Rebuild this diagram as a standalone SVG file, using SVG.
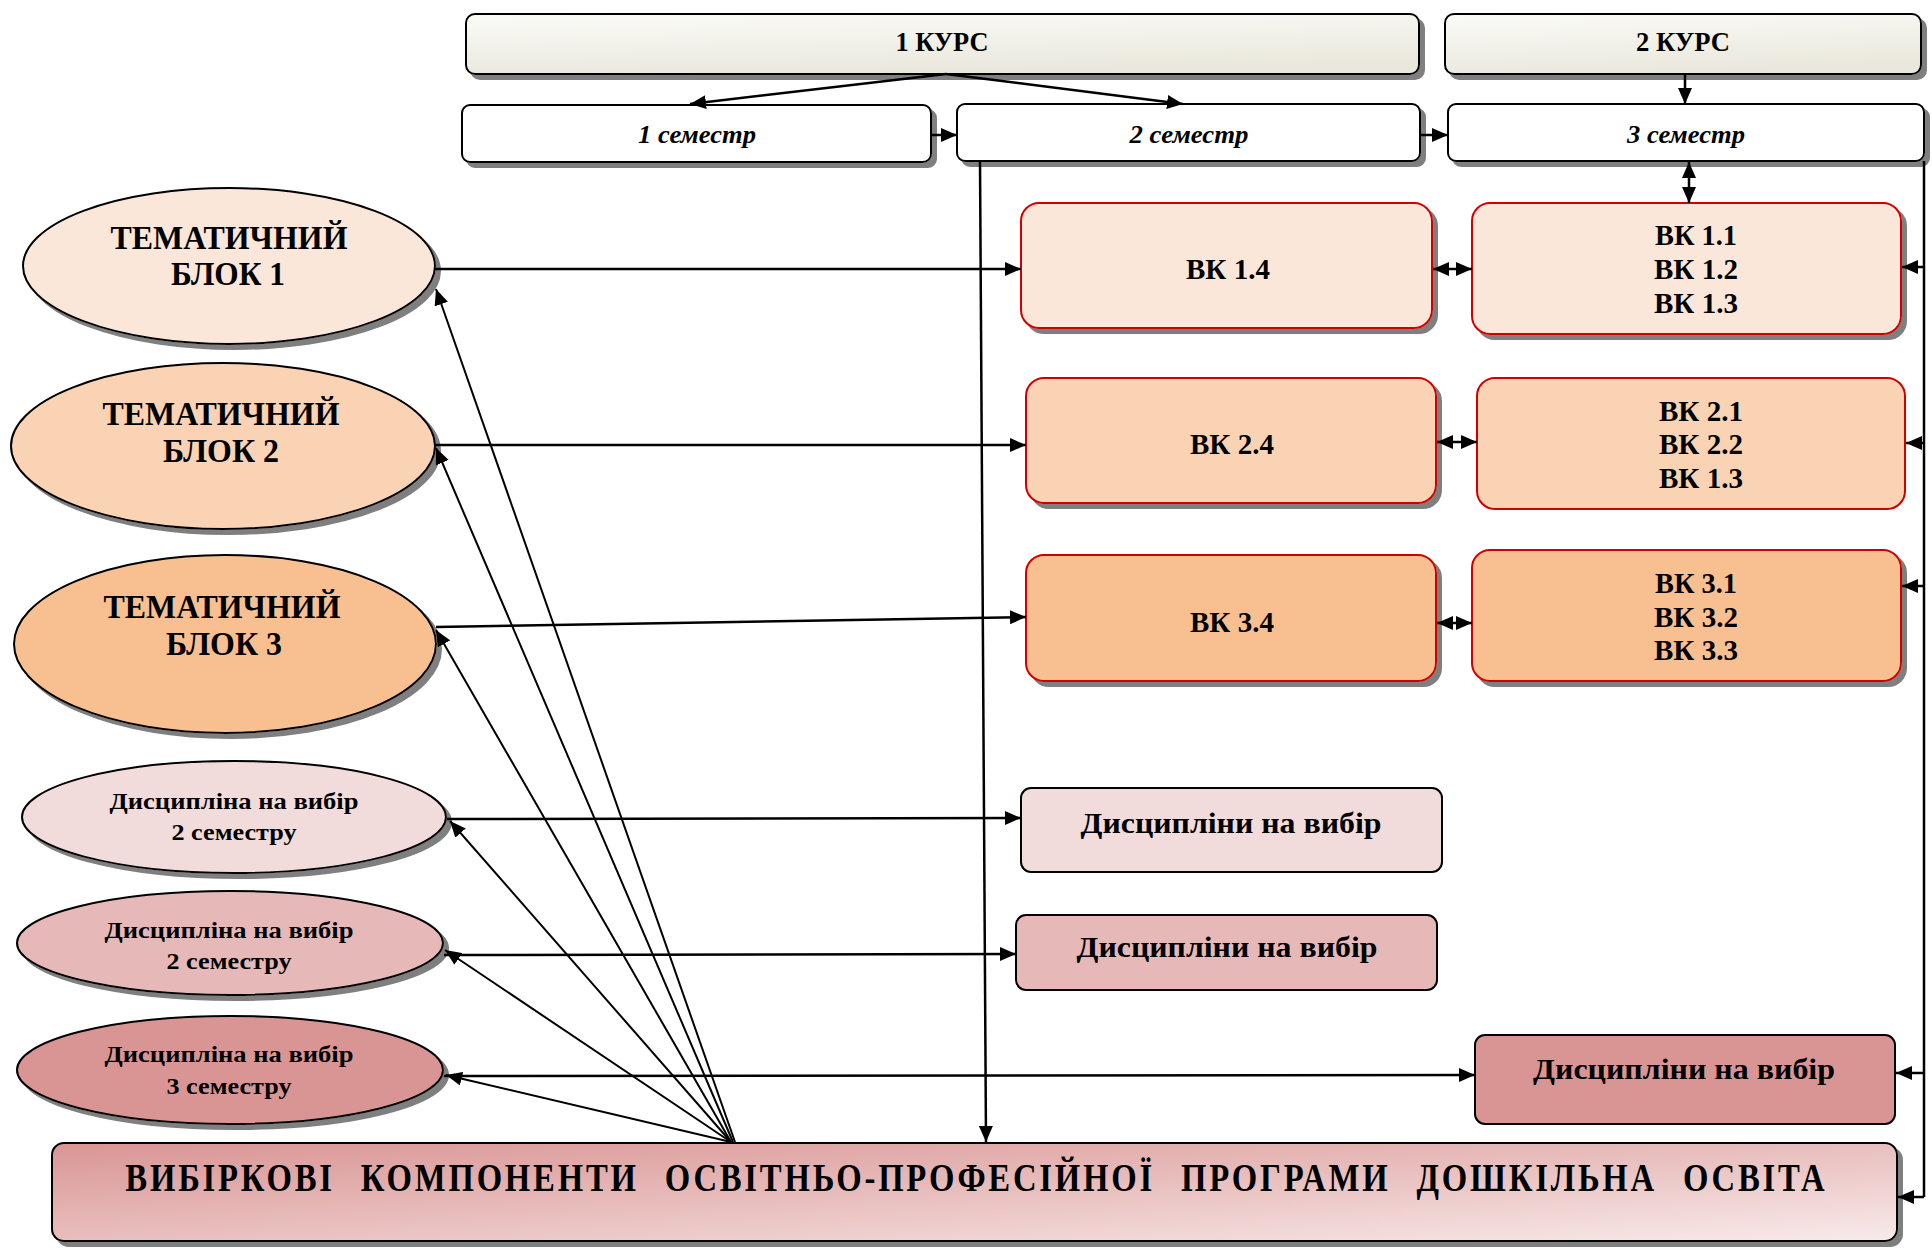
<svg xmlns="http://www.w3.org/2000/svg" width="1932" height="1248" viewBox="0 0 1932 1248">
<defs>
<style>
.t{font-family:"Liberation Serif","Times New Roman",serif;font-weight:bold;fill:#000;text-anchor:middle}
.it{font-style:italic}
.box{stroke:#000;stroke-width:2}
.vk{stroke:#D00000;stroke-width:2}
.ln{stroke:#000;stroke-width:2.5;fill:none}
.fan{stroke:#000;stroke-width:2;fill:none}
</style>
<filter id="sh" x="-5%" y="-5%" width="115%" height="130%">
<feFlood flood-color="#7f7f7f"/>
<feComposite in2="SourceAlpha" operator="in"/>
<feOffset dx="5" dy="5" result="s"/>
<feMerge><feMergeNode in="s"/><feMergeNode in="SourceGraphic"/></feMerge>
</filter>
<linearGradient id="gk" x1="0" y1="0" x2="0.3" y2="1">
<stop offset="0" stop-color="#FBFBF7"/><stop offset="1" stop-color="#EAE8DD"/>
</linearGradient>
<linearGradient id="gm" x1="0" y1="0" x2="1" y2="1">
<stop offset="0" stop-color="#D99594"/><stop offset="0.6" stop-color="#EBC7C6"/><stop offset="1" stop-color="#F8EAEA"/>
</linearGradient>
<marker id="ah" markerUnits="userSpaceOnUse" markerWidth="18" markerHeight="14" refX="16" refY="7" orient="auto">
<path d="M0,0 L16,7 L0,14 Z" fill="#000"/>
</marker>
<marker id="as" markerUnits="userSpaceOnUse" markerWidth="18" markerHeight="14" refX="16" refY="7" orient="auto-start-reverse">
<path d="M0,0 L16,7 L0,14 Z" fill="#000"/>
</marker>
</defs>
<rect width="1932" height="1248" fill="#fff"/>

<g id="kurs1"><rect x="466" y="14" width="953" height="60" rx="9" fill="url(#gk)" class="box" filter="url(#sh)"/><text x="942" y="51" class="t" font-size="27" textLength="93" lengthAdjust="spacingAndGlyphs">1 КУРС</text></g>
<g id="kurs2"><rect x="1445" y="14" width="476" height="60" rx="9" fill="url(#gk)" class="box" filter="url(#sh)"/><text x="1683" y="51" class="t" font-size="27" textLength="94" lengthAdjust="spacingAndGlyphs">2 КУРС</text></g>
<g id="sem1"><rect x="462" y="105" width="469" height="57" rx="8" fill="#fff" class="box" filter="url(#sh)"/><text x="697" y="143" class="t it" font-size="26" textLength="118" lengthAdjust="spacingAndGlyphs">1 семестр</text></g>
<g id="sem2"><rect x="957" y="104" width="463" height="57" rx="8" fill="#fff" class="box" filter="url(#sh)"/><text x="1189" y="143" class="t it" font-size="26" textLength="119" lengthAdjust="spacingAndGlyphs">2 семестр</text></g>
<g id="sem3"><rect x="1448" y="104" width="476" height="57" rx="8" fill="#fff" class="box" filter="url(#sh)"/><text x="1686" y="143" class="t it" font-size="26" textLength="118" lengthAdjust="spacingAndGlyphs">3 семестр</text></g>

<g id="vk14"><rect x="1021" y="203" width="411" height="125" rx="18" fill="#FBE7D9" class="vk" filter="url(#sh)"/><text x="1228" y="279" class="t" font-size="30" textLength="84" lengthAdjust="spacingAndGlyphs">ВК 1.4</text></g>
<g id="vk11"><rect x="1472" y="203" width="429" height="131" rx="18" fill="#FBE7D9" class="vk" filter="url(#sh)"/>
<text x="1696" y="245" class="t" font-size="30" textLength="82" lengthAdjust="spacingAndGlyphs">ВК 1.1</text>
<text x="1696" y="279" class="t" font-size="30" textLength="84" lengthAdjust="spacingAndGlyphs">ВК 1.2</text>
<text x="1696" y="313" class="t" font-size="30" textLength="84" lengthAdjust="spacingAndGlyphs">ВК 1.3</text></g>
<g id="vk24"><rect x="1026" y="378" width="410" height="125" rx="18" fill="#F9D3B4" class="vk" filter="url(#sh)"/><text x="1232" y="454" class="t" font-size="30" textLength="84" lengthAdjust="spacingAndGlyphs">ВК 2.4</text></g>
<g id="vk21"><rect x="1477" y="378" width="428" height="131" rx="18" fill="#F9D3B4" class="vk"/>
<text x="1701" y="421" class="t" font-size="30" textLength="84" lengthAdjust="spacingAndGlyphs">ВК 2.1</text>
<text x="1701" y="454" class="t" font-size="30" textLength="84" lengthAdjust="spacingAndGlyphs">ВК 2.2</text>
<text x="1701" y="488" class="t" font-size="30" textLength="84" lengthAdjust="spacingAndGlyphs">ВК 1.3</text></g>
<g id="vk34"><rect x="1026" y="555" width="410" height="126" rx="18" fill="#F8BF91" class="vk" filter="url(#sh)"/><text x="1232" y="632" class="t" font-size="30" textLength="84" lengthAdjust="spacingAndGlyphs">ВК 3.4</text></g>
<g id="vk31"><rect x="1472" y="550" width="429" height="131" rx="18" fill="#F8BF91" class="vk" filter="url(#sh)"/>
<text x="1696" y="593" class="t" font-size="30" textLength="82" lengthAdjust="spacingAndGlyphs">ВК 3.1</text>
<text x="1696" y="627" class="t" font-size="30" textLength="84" lengthAdjust="spacingAndGlyphs">ВК 3.2</text>
<text x="1696" y="660" class="t" font-size="30" textLength="84" lengthAdjust="spacingAndGlyphs">ВК 3.3</text></g>

<g id="dis1box"><rect x="1021" y="788" width="421" height="84" rx="10" fill="#F2DCDB" class="box"/><text x="1231" y="833" class="t" font-size="30" textLength="301" lengthAdjust="spacingAndGlyphs">Дисципліни на вибір</text></g>
<g id="dis2box"><rect x="1016" y="915" width="421" height="75" rx="10" fill="#E6B9B8" class="box"/><text x="1227" y="957" class="t" font-size="30" textLength="301" lengthAdjust="spacingAndGlyphs">Дисципліни на вибір</text></g>
<g id="dis3box"><rect x="1475" y="1035" width="420" height="89" rx="10" fill="#D99594" class="box"/><text x="1684" y="1079" class="t" font-size="30" textLength="302" lengthAdjust="spacingAndGlyphs">Дисципліни на вибір</text></g>

<g id="blok1"><ellipse cx="229" cy="266" rx="206" ry="78" fill="#FBE7D9" class="box" filter="url(#sh)"/>
<text x="229" y="249" class="t" font-size="34" textLength="237" lengthAdjust="spacingAndGlyphs">ТЕМАТИЧНИЙ</text>
<text x="228" y="285" class="t" font-size="34" textLength="114" lengthAdjust="spacingAndGlyphs">БЛОК 1</text></g>
<g id="blok2"><ellipse cx="223" cy="446" rx="212" ry="83" fill="#F9D3B4" class="box" filter="url(#sh)"/>
<text x="221" y="425" class="t" font-size="34" textLength="237" lengthAdjust="spacingAndGlyphs">ТЕМАТИЧНИЙ</text>
<text x="221" y="462" class="t" font-size="34" textLength="116" lengthAdjust="spacingAndGlyphs">БЛОК 2</text></g>
<g id="blok3"><ellipse cx="225" cy="644" rx="211" ry="89" fill="#F8BF91" class="box" filter="url(#sh)"/>
<text x="222" y="618" class="t" font-size="34" textLength="237" lengthAdjust="spacingAndGlyphs">ТЕМАТИЧНИЙ</text>
<text x="224" y="655" class="t" font-size="34" textLength="116" lengthAdjust="spacingAndGlyphs">БЛОК 3</text></g>
<g id="dis1"><ellipse cx="234" cy="817" rx="212" ry="56" fill="#F2DCDB" class="box" filter="url(#sh)"/>
<text x="234" y="809" class="t" font-size="24" textLength="249" lengthAdjust="spacingAndGlyphs">Дисципліна на вибір</text>
<text x="234" y="840" class="t" font-size="24" textLength="125" lengthAdjust="spacingAndGlyphs">2 семестру</text></g>
<g id="dis2"><ellipse cx="230" cy="943" rx="213" ry="52" fill="#E6B9B8" class="box" filter="url(#sh)"/>
<text x="229" y="938" class="t" font-size="24" textLength="249" lengthAdjust="spacingAndGlyphs">Дисципліна на вибір</text>
<text x="229" y="969" class="t" font-size="24" textLength="125" lengthAdjust="spacingAndGlyphs">2 семестру</text></g>
<g id="dis3"><ellipse cx="230" cy="1070" rx="213" ry="54" fill="#D99594" class="box" filter="url(#sh)"/>
<text x="229" y="1062" class="t" font-size="24" textLength="249" lengthAdjust="spacingAndGlyphs">Дисципліна на вибір</text>
<text x="229" y="1094" class="t" font-size="24" textLength="125" lengthAdjust="spacingAndGlyphs">3 семестру</text></g>

<g id="main"><rect x="52" y="1143" width="1845" height="98" rx="12" fill="url(#gm)" class="box" filter="url(#sh)"/><text transform="translate(975,1191) scale(0.84,1)" x="0" y="0" class="t" font-size="39" word-spacing="18" textLength="2023" lengthAdjust="spacing">ВИБІРКОВІ  КОМПОНЕНТИ  ОСВІТНЬО-ПРОФЕСІЙНОЇ  ПРОГРАМИ  ДОШКІЛЬНА  ОСВІТА</text></g>

<g id="connectors">
<line x1="946" y1="74" x2="690" y2="104" class="ln" marker-end="url(#ah)"/>
<line x1="946" y1="74" x2="1183" y2="104" class="ln" marker-end="url(#ah)"/>
<line x1="1685" y1="74" x2="1685" y2="104" class="ln" marker-end="url(#ah)"/>
<line x1="931" y1="135" x2="957" y2="135" class="ln" marker-end="url(#ah)"/>
<line x1="1420" y1="135" x2="1448" y2="135" class="ln" marker-end="url(#ah)"/>
<line x1="1689" y1="162" x2="1689" y2="203" class="ln" marker-start="url(#as)" marker-end="url(#ah)"/>
<line x1="980" y1="161" x2="986" y2="1142" class="ln" marker-end="url(#ah)"/>
<line x1="1924" y1="161" x2="1924" y2="1197" class="ln"/>
<line x1="1924" y1="267" x2="1902" y2="267" class="ln" marker-end="url(#ah)"/>
<line x1="1924" y1="443" x2="1906" y2="443" class="ln" marker-end="url(#ah)"/>
<line x1="1924" y1="586" x2="1902" y2="586" class="ln" marker-end="url(#ah)"/>
<line x1="1924" y1="1073" x2="1896" y2="1073" class="ln" marker-end="url(#ah)"/>
<line x1="1924" y1="1197" x2="1898" y2="1197" class="ln" marker-end="url(#ah)"/>
<line x1="434" y1="269" x2="1021" y2="269" class="ln" marker-end="url(#ah)"/>
<line x1="435" y1="445" x2="1026" y2="445" class="ln" marker-end="url(#ah)"/>
<line x1="436" y1="627" x2="1026" y2="617" class="ln" marker-end="url(#ah)"/>
<line x1="1433" y1="269" x2="1472" y2="269" class="ln" marker-start="url(#as)" marker-end="url(#ah)"/>
<line x1="1437" y1="442" x2="1477" y2="442" class="ln" marker-start="url(#as)" marker-end="url(#ah)"/>
<line x1="1437" y1="623" x2="1472" y2="623" class="ln" marker-start="url(#as)" marker-end="url(#ah)"/>
<line x1="447" y1="819" x2="1021" y2="818" class="ln" marker-end="url(#ah)"/>
<line x1="444" y1="955" x2="1016" y2="954" class="ln" marker-end="url(#ah)"/>
<line x1="444" y1="1076" x2="1475" y2="1075" class="ln" marker-end="url(#ah)"/>
<line x1="735" y1="1142" x2="436" y2="289" class="fan" marker-end="url(#ah)"/>
<line x1="733" y1="1142" x2="436" y2="448" class="fan" marker-end="url(#ah)"/>
<line x1="731" y1="1142" x2="436" y2="630" class="fan" marker-end="url(#ah)"/>
<line x1="731" y1="1142" x2="450" y2="821" class="fan" marker-end="url(#ah)"/>
<line x1="731" y1="1142" x2="445" y2="950" class="fan" marker-end="url(#ah)"/>
<line x1="731" y1="1142" x2="446" y2="1075" class="fan" marker-end="url(#ah)"/>
</g>
</svg>
